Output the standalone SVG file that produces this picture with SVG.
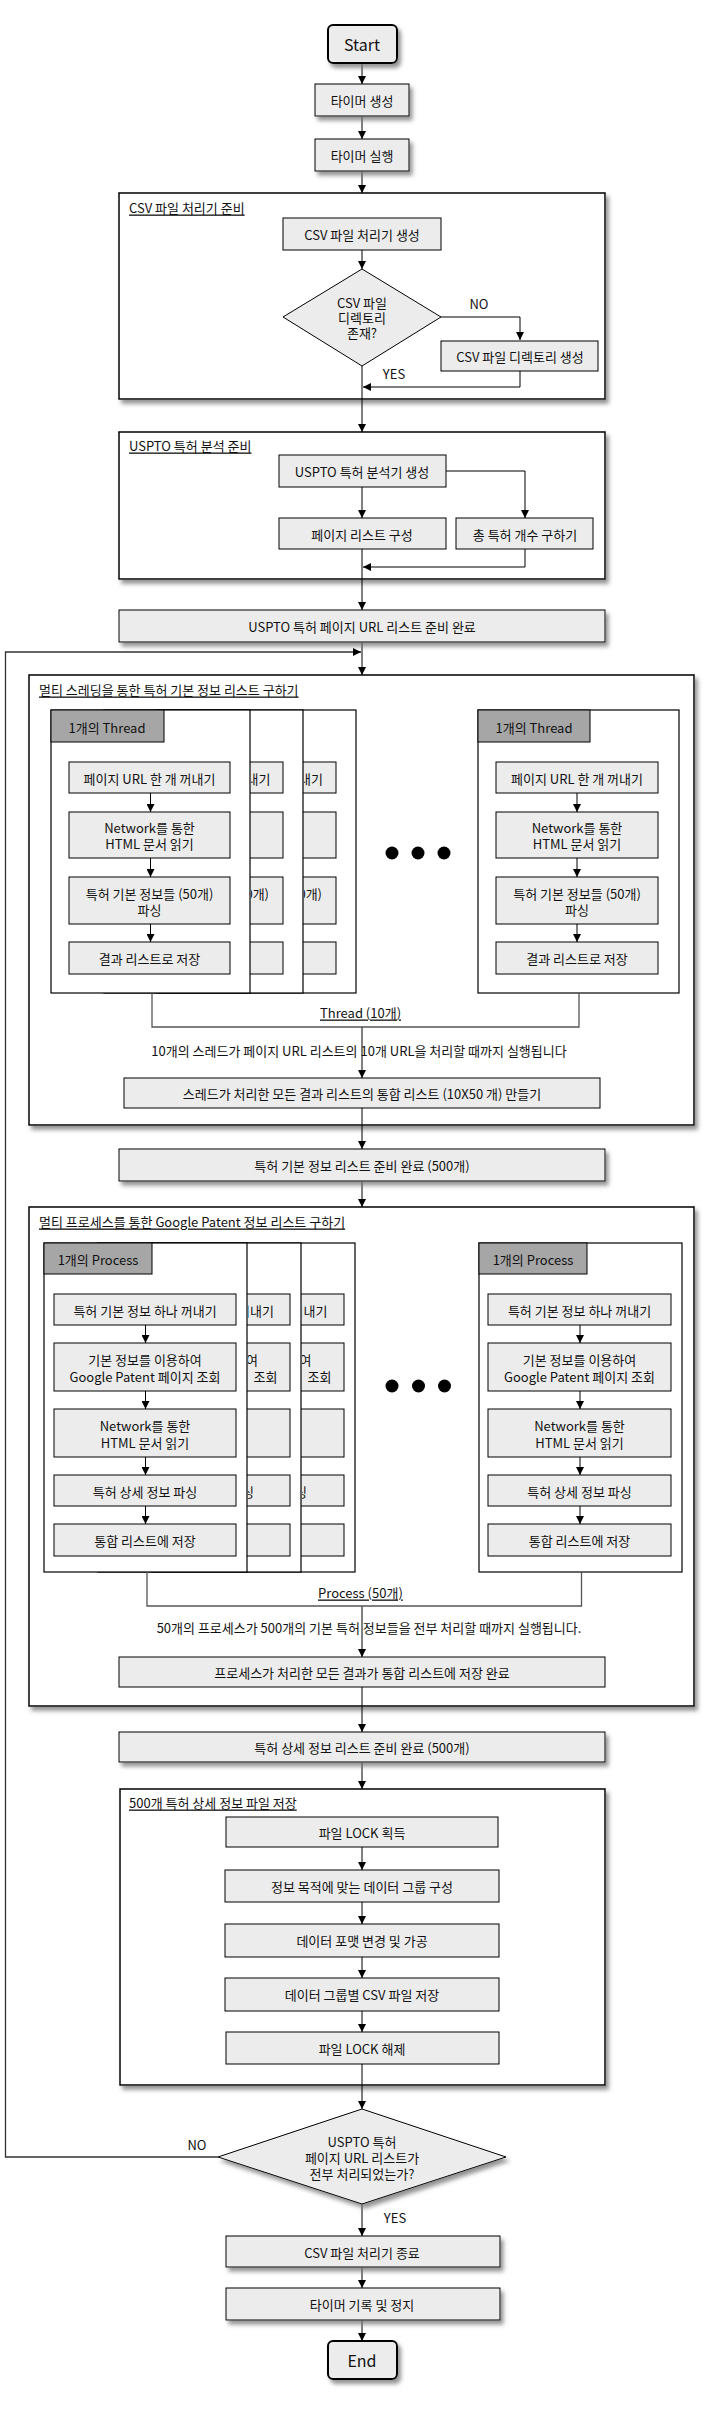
<svg xmlns="http://www.w3.org/2000/svg" width="720" height="2415" viewBox="0 0 720 2415">
<defs>
<filter id="sh" x="-10%" y="-10%" width="130%" height="140%">
<feDropShadow dx="3" dy="4" stdDeviation="2" flood-color="#777" flood-opacity="0.8"/>
</filter>
<marker id="ar" markerWidth="8" markerHeight="8" refX="8" refY="4" orient="auto" markerUnits="userSpaceOnUse">
<path d="M0,0 L8,4 L0,8 z" fill="#000"/>
</marker>
<clipPath id="cT2"><rect x="251" y="710" width="52" height="283"/></clipPath>
<clipPath id="cT3"><rect x="304" y="710" width="52" height="283"/></clipPath>
<clipPath id="cP2"><rect x="248" y="1243" width="53" height="329"/></clipPath>
<clipPath id="cP3"><rect x="302" y="1243" width="53" height="329"/></clipPath>
<style>
.box{fill:#ececec;stroke:#000;stroke-width:1}
.term{fill:#ececec;stroke:#000;stroke-width:2}
.cont{fill:#fff;stroke:#000;stroke-width:1.5}
.frame{fill:#fff;stroke:#000;stroke-width:1.2}
.hdr{fill:#a6a6a6;stroke:#000;stroke-width:1}
.sh{filter:url(#sh)}
.t{font-family:"Noto Sans CJK KR","Noto Sans",sans-serif;font-size:13px;text-anchor:middle;dominant-baseline:central;fill:#111}
.e{text-anchor:end}
.big{font-size:16px}
.ti{text-anchor:start;text-decoration:underline}
.la{stroke:#000;stroke-width:1;fill:none;marker-end:url(#ar)}
.br{stroke:#555;stroke-width:1.3;fill:none}
.lp{stroke:#333;stroke-width:1.3;fill:none;marker-end:url(#ar)}
</style>
</defs>

<g id="containers">
<g id="csv-prep"><rect class="cont sh" x="119" y="193" width="486" height="206"/><text class="t ti" x="129" y="207">CSV 파일 처리기 준비</text></g>
<g id="uspto-prep"><rect class="cont sh" x="119" y="432" width="486" height="147"/><text class="t ti" x="129" y="445">USPTO 특허 분석 준비</text></g>
<g id="thread-group"><rect class="cont sh" x="29" y="675" width="665" height="450"/><text class="t ti" x="39" y="689">멀티 스레딩을 통한 특허 기본 정보 리스트 구하기</text></g>
<g id="process-group"><rect class="cont sh" x="29" y="1207" width="665" height="499"/><text class="t ti" x="39" y="1221">멀티 프로세스를 통한 Google Patent 정보 리스트 구하기</text></g>
<g id="file-save"><rect class="cont sh" x="120" y="1789" width="485" height="296"/><text class="t ti" x="129" y="1802">500개 특허 상세 정보 파일 저장</text></g>
</g>

<g id="connectors">
<path class="la" d="M362,63 V84"/>
<path class="la" d="M362,116 V139"/>
<path class="la" d="M362,171 V193"/>
<path class="la" d="M362,250 V269"/>
<path class="la" d="M441,317 H520 V340"/>
<path class="la" d="M520,371 V387 H363"/>
<path class="la" d="M362,366 V432"/>
<path class="la" d="M362,487 V518"/>
<path class="la" d="M446,471 H525 V518"/>
<path class="la" d="M525,549 V567 H363"/>
<path class="la" d="M362,549 V610"/>
<path class="la" d="M362,642 V675"/>
<path class="lp" d="M218,2157 H5.5 V652 H361"/>
<path class="la" d="M362,1027 V1078"/>
<path class="la" d="M362,1108 V1149"/>
<path class="la" d="M362,1181 V1207"/>
<path class="la" d="M362,1606 V1657"/>
<path class="la" d="M362,1687 V1732"/>
<path class="la" d="M362,1762 V1789"/>
<path class="la" d="M362,1847 V1870"/>
<path class="la" d="M362,1902 V1924"/>
<path class="la" d="M362,1957 V1978"/>
<path class="la" d="M362,2011 V2032"/>
<path class="la" d="M362,2064 V2109"/>
<path class="la" d="M362,2204 V2236"/>
<path class="la" d="M362,2267 V2288"/>
<path class="la" d="M362,2320 V2341"/>
</g>

<g id="start"><rect class="term sh" x="328" y="25" width="69" height="38" rx="5"/><text class="t big" x="362" y="44">Start</text></g>
<g id="timer-create"><rect class="box sh" x="315" y="84" width="94" height="32"/><text class="t" x="362" y="100">타이머 생성</text></g>
<g id="timer-run"><rect class="box sh" x="315" y="139" width="94" height="32"/><text class="t" x="362" y="155">타이머 실행</text></g>

<g id="csv-create"><rect class="box" x="283" y="218" width="158" height="32"/><text class="t" x="362" y="234">CSV 파일 처리기 생성</text></g>
<g id="csv-dir-check"><polygon class="box" points="362,269 441,317 362,366 283,317"/>
<text class="t" x="362" y="302">CSV 파일</text><text class="t" x="362" y="317">디렉토리</text><text class="t" x="362" y="332">존재?</text></g>
<g id="csv-dir-create"><rect class="box" x="441" y="341" width="157" height="30"/><text class="t" x="520" y="356">CSV 파일 디렉토리 생성</text></g>
<text class="t" x="479" y="303">NO</text>
<text class="t" x="394" y="373">YES</text>

<g id="uspto-create"><rect class="box" x="279" y="455" width="167" height="32"/><text class="t" x="362" y="471">USPTO 특허 분석기 생성</text></g>
<g id="page-list"><rect class="box" x="279" y="518" width="167" height="31"/><text class="t" x="362" y="534">페이지 리스트 구성</text></g>
<g id="total-count"><rect class="box" x="456" y="518" width="137" height="31"/><text class="t" x="525" y="534">총 특허 개수 구하기</text></g>
<g id="url-ready"><rect class="box sh" x="119" y="610" width="486" height="32"/><text class="t" x="362" y="626">USPTO 특허 페이지 URL 리스트 준비 완료</text></g>

<g id="thread-3"><rect class="frame" x="157" y="710" width="199" height="283"/>
<rect class="box" x="175" y="762" width="161" height="31"/>
<rect class="box" x="175" y="812" width="161" height="46"/>
<rect class="box" x="175" y="877" width="161" height="47"/>
<rect class="box" x="175" y="942" width="161" height="32"/>
<g clip-path="url(#cT3)"><text class="t e" x="323" y="778">꺼내기</text><text class="t e" x="322" y="893">(50개)</text></g></g>
<g id="thread-2"><rect class="frame" x="104" y="710" width="199" height="283"/>
<rect class="box" x="122" y="762" width="161" height="31"/>
<rect class="box" x="122" y="812" width="161" height="46"/>
<rect class="box" x="122" y="877" width="161" height="47"/>
<rect class="box" x="122" y="942" width="161" height="32"/>
<g clip-path="url(#cT2)"><text class="t e" x="270.5" y="778">꺼내기</text><text class="t e" x="269" y="893">(50개)</text></g></g>
<g id="thread-1"><rect class="frame" x="51" y="710" width="199" height="283"/>
<rect class="hdr" x="51" y="710" width="113" height="32"/><text class="t" x="107" y="727">1개의 Thread</text>
<rect class="box" x="69" y="762" width="161" height="31"/><text class="t" x="149.5" y="778">페이지 URL 한 개 꺼내기</text>
<rect class="box" x="69" y="812" width="161" height="46"/><text class="t" x="149.5" y="827">Network를 통한</text><text class="t" x="149.5" y="843">HTML 문서 읽기</text>
<rect class="box" x="69" y="877" width="161" height="47"/><text class="t" x="149.5" y="893">특허 기본 정보들 (50개)</text><text class="t" x="149.5" y="909">파싱</text>
<rect class="box" x="69" y="942" width="161" height="32"/><text class="t" x="149.5" y="958">결과 리스트로 저장</text>
<path class="la" d="M150.5,793 V812"/><path class="la" d="M150.5,858 V877"/><path class="la" d="M150.5,924 V942"/></g>
<g id="thread-n"><rect class="frame" x="478" y="710" width="201" height="283"/>
<rect class="hdr" x="478" y="710" width="112" height="32"/><text class="t" x="534" y="727">1개의 Thread</text>
<rect class="box" x="496" y="762" width="162" height="31"/><text class="t" x="577" y="778">페이지 URL 한 개 꺼내기</text>
<rect class="box" x="496" y="812" width="162" height="46"/><text class="t" x="577" y="827">Network를 통한</text><text class="t" x="577" y="843">HTML 문서 읽기</text>
<rect class="box" x="496" y="877" width="162" height="47"/><text class="t" x="577" y="893">특허 기본 정보들 (50개)</text><text class="t" x="577" y="909">파싱</text>
<rect class="box" x="496" y="942" width="162" height="32"/><text class="t" x="577" y="958">결과 리스트로 저장</text>
<path class="la" d="M577,793 V812"/><path class="la" d="M577,858 V877"/><path class="la" d="M577,924 V942"/></g>
<g id="thread-dots"><circle cx="392" cy="853" r="6.5"/><circle cx="418" cy="853" r="6.5"/><circle cx="444" cy="853" r="6.5"/></g>
<g id="thread-bracket"><path class="br" d="M152,993 V1027 H579 V993"/><text class="t ti" x="320" y="1012">Thread (10개)</text></g>
<text class="t" x="359" y="1050">10개의 스레드가 페이지 URL 리스트의 10개  URL을 처리할 때까지 실행됩니다</text>
<g id="merge-list"><rect class="box" x="124" y="1078" width="476" height="30"/><text class="t" x="362" y="1093">스레드가 처리한 모든 결과 리스트의 통합 리스트 (10X50 개) 만들기</text></g>
<g id="basic-ready"><rect class="box sh" x="119" y="1149" width="486" height="32"/><text class="t" x="362" y="1165">특허 기본 정보 리스트 준비 완료 (500개)</text></g>

<g id="process-3"><rect class="frame" x="152" y="1243" width="203" height="329"/>
<rect class="box" x="162" y="1294" width="182" height="31"/>
<rect class="box" x="162" y="1343" width="182" height="48"/>
<rect class="box" x="162" y="1409" width="182" height="48"/>
<rect class="box" x="162" y="1475" width="182" height="31"/>
<rect class="box" x="162" y="1524" width="182" height="32"/>
<g clip-path="url(#cP3)"><text class="t e" x="327.5" y="1310">꺼내기</text><text class="t e" x="311.5" y="1359">하여</text><text class="t e" x="331.5" y="1376">조회</text><text class="t e" x="307" y="1491">파싱</text></g></g>
<g id="process-2"><rect class="frame" x="98" y="1243" width="203" height="329"/>
<rect class="box" x="108" y="1294" width="182" height="31"/>
<rect class="box" x="108" y="1343" width="182" height="48"/>
<rect class="box" x="108" y="1409" width="182" height="48"/>
<rect class="box" x="108" y="1475" width="182" height="31"/>
<rect class="box" x="108" y="1524" width="182" height="32"/>
<g clip-path="url(#cP2)"><text class="t e" x="274" y="1310">꺼내기</text><text class="t e" x="258" y="1359">하여</text><text class="t e" x="277.5" y="1376">조회</text><text class="t e" x="254" y="1491">파싱</text></g></g>
<g id="process-1"><rect class="frame" x="44" y="1243" width="203" height="329"/>
<rect class="hdr" x="44" y="1243" width="108" height="31"/><text class="t" x="98" y="1259">1개의 Process</text>
<rect class="box" x="54" y="1294" width="182" height="31"/><text class="t" x="145" y="1310">특허 기본 정보 하나 꺼내기</text>
<rect class="box" x="54" y="1343" width="182" height="48"/><text class="t" x="145" y="1359">기본 정보를 이용하여</text><text class="t" x="145" y="1376">Google Patent 페이지 조회</text>
<rect class="box" x="54" y="1409" width="182" height="48"/><text class="t" x="145" y="1425">Network를 통한</text><text class="t" x="145" y="1442">HTML 문서 읽기</text>
<rect class="box" x="54" y="1475" width="182" height="31"/><text class="t" x="145" y="1491">특허 상세 정보 파싱</text>
<rect class="box" x="54" y="1524" width="182" height="32"/><text class="t" x="145" y="1540">통합 리스트에 저장</text>
<path class="la" d="M145.5,1325 V1343"/><path class="la" d="M145.5,1391 V1409"/><path class="la" d="M145.5,1457 V1475"/><path class="la" d="M145.5,1506 V1524"/></g>
<g id="process-n"><rect class="frame" x="479" y="1243" width="203" height="329"/>
<rect class="hdr" x="479" y="1243" width="108" height="31"/><text class="t" x="533" y="1259">1개의 Process</text>
<rect class="box" x="488" y="1294" width="183" height="31"/><text class="t" x="579.5" y="1310">특허 기본 정보 하나 꺼내기</text>
<rect class="box" x="488" y="1343" width="183" height="48"/><text class="t" x="579.5" y="1359">기본 정보를 이용하여</text><text class="t" x="579.5" y="1376">Google Patent 페이지 조회</text>
<rect class="box" x="488" y="1409" width="183" height="48"/><text class="t" x="579.5" y="1425">Network를 통한</text><text class="t" x="579.5" y="1442">HTML 문서 읽기</text>
<rect class="box" x="488" y="1475" width="183" height="31"/><text class="t" x="579.5" y="1491">특허 상세 정보 파싱</text>
<rect class="box" x="488" y="1524" width="183" height="32"/><text class="t" x="579.5" y="1540">통합 리스트에 저장</text>
<path class="la" d="M580,1325 V1343"/><path class="la" d="M580,1391 V1409"/><path class="la" d="M580,1457 V1475"/><path class="la" d="M580,1506 V1524"/></g>
<g id="process-dots"><circle cx="392" cy="1386" r="6.5"/><circle cx="418.5" cy="1386" r="6.5"/><circle cx="444.5" cy="1386" r="6.5"/></g>
<g id="process-bracket"><path class="br" d="M147,1572 V1606 H581.5 V1572"/><text class="t ti" x="318" y="1592">Process (50개)</text></g>
<text class="t" x="369" y="1627">50개의 프로세스가 500개의 기본 특허  정보들을 전부 처리할 때까지 실행됩니다.</text>
<g id="process-saved"><rect class="box" x="119" y="1657" width="486" height="30"/><text class="t" x="362" y="1672">프로세스가 처리한 모든 결과가 통합 리스트에 저장 완료</text></g>
<g id="detail-ready"><rect class="box sh" x="119" y="1732" width="486" height="30"/><text class="t" x="362" y="1747">특허 상세 정보 리스트 준비 완료 (500개)</text></g>

<g id="lock"><rect class="box" x="226" y="1817" width="272" height="30"/><text class="t" x="362" y="1832">파일 LOCK 획득</text></g>
<g id="group"><rect class="box" x="225" y="1870" width="274" height="32"/><text class="t" x="362" y="1886">정보 목적에 맞는 데이터 그룹 구성</text></g>
<g id="format"><rect class="box" x="225" y="1924" width="274" height="33"/><text class="t" x="362" y="1940">데이터 포맷 변경 및 가공</text></g>
<g id="csv-save"><rect class="box" x="225" y="1978" width="274" height="33"/><text class="t" x="362" y="1994">데이터 그룹별 CSV 파일 저장</text></g>
<g id="unlock"><rect class="box" x="226" y="2032" width="273" height="32"/><text class="t" x="362" y="2048">파일 LOCK 해제</text></g>

<g id="all-done"><polygon class="box sh" points="362,2109 506,2157 362,2204 218,2157"/>
<text class="t" x="362" y="2141">USPTO 특허</text><text class="t" x="362" y="2157">페이지 URL 리스트가</text><text class="t" x="362" y="2173">전부 처리되었는가?</text></g>
<text class="t" x="197" y="2144">NO</text>
<text class="t" x="395" y="2217">YES</text>
<g id="csv-end"><rect class="box sh" x="226" y="2236" width="274" height="31"/><text class="t" x="362" y="2252">CSV 파일 처리기 종료</text></g>
<g id="timer-stop"><rect class="box sh" x="226" y="2288" width="274" height="32"/><text class="t" x="362" y="2304">타이머 기록 및 정지</text></g>
<g id="end"><rect class="term sh" x="328" y="2341" width="69" height="38" rx="5"/><text class="t big" x="362" y="2360">End</text></g>
</svg>
